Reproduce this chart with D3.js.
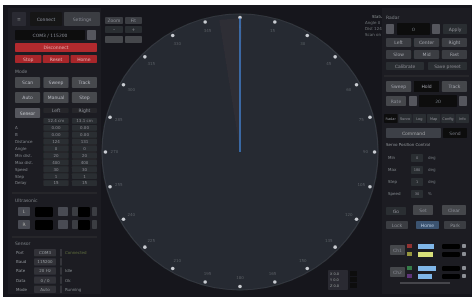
<!DOCTYPE html>
<html>
<head>
<meta charset="utf-8">
<script src="https://cdn.jsdelivr.net/npm/d3@7"></script>
<style>
  html, body { margin: 0; padding: 0; background: #fff; }
  svg { display: block; font-family: "DejaVu Sans", sans-serif; }
</style>
</head>
<body>
<svg id="ui" width="475" height="299"></svg>
<script>
// bearing ticks around the scope (degrees, 0 = up)
const tickAngles = d3.range(0, 360, 15);
const tickLabels = tickAngles.map(a => `${a}`);
// current servo heading and scan beam (degrees)
const heading = [0];
const beam = [-9, 1];
const headingRange = [0, 0.97];

const tabLabels = ['Connect', 'Settings'];
const portLabel = 'COM3 / 115200';
const redLabels = ['Disconnect'];
const redRowLabels = ['Stop', 'Reset', 'Home'];
const modeLabels = [['Scan', 'Sweep', 'Track'], ['Auto', 'Manual', 'Step']];
const tableHead = ['Sensor', 'Left', 'Right'];
const tableRows = [
  ['', '12.4 cm', '13.1 cm'],
  ['A', '0.00', '0.00'],
  ['B', '0.00', '0.00'],
  ['Distance', '124', '131'],
  ['Angle', '0', '0'],
  ['Min dist.', '20', '20'],
  ['Max dist.', '400', '400'],
  ['Speed', '30', '30'],
  ['Step', '1', '1'],
  ['Delay', '15', '15'],
];
const sensorRows = [
  ['Port', 'COM3', 'Connected'],
  ['Baud', '115200', ''],
  ['Rate', '20 Hz', 'Idle'],
  ['Data', '0 / 0', 'Ok'],
  ['Mode', 'Auto', 'Running'],
];
const statusLines = ['Status', 'Angle 0', 'Dist 124', 'Scan on'];
const rightTabs = ['Radar', 'Servo', 'Log', 'Map', 'Config', 'Info'];
const servoRows = [['Min', '0', 'deg'], ['Max', '180', 'deg'], ['Step', '1', 'deg'], ['Speed', '30', '%']];
const barColors = ['#c23b3b', '#c9c94a', '#3fa35a', '#7a3fa0'];
const barValues = [0.8, 0.75, 0.9, 0.7];

const svg = d3.select('#ui');
const W = 475, H = 299;

// the reference is a soft, slightly out of focus capture
svg.append('defs').append('filter').attr('id', 'soft')
  .append('feGaussianBlur').attr('stdDeviation', 0.55);

svg.append('rect').attr('width', W).attr('height', H).attr('fill', '#ffffff');
const root = svg.append('g').attr('filter', 'url(#soft)');
root.append('rect').attr('x', 3).attr('y', 5).attr('width', W - 6).attr('height', H - 7)
  .attr('fill', '#18191d');

function box(g, x, y, w, h, fill, label, color = '#8d9096', size = 4.5) {
  g.append('rect').attr('x', x).attr('y', y).attr('width', w).attr('height', h)
    .attr('rx', 1).attr('fill', fill);
  if (label) {
    g.append('text').attr('x', x + w / 2).attr('y', y + h / 2).attr('dy', '0.35em')
      .attr('text-anchor', 'middle').attr('font-size', size).attr('fill', color).text(label);
  }
}
function label(g, x, y, t, color = '#7d8087', size = 4.5, anchor = 'start') {
  g.append('text').attr('x', x).attr('y', y).attr('dy', '0.35em').attr('font-size', size)
    .attr('text-anchor', anchor).attr('fill', color).text(t);
}

// ---------- left panel ----------
const left = root.append('g');
left.append('rect').attr('x', 8).attr('y', 8).attr('width', 93).attr('height', 286).attr('fill', '#1e1f24');
box(left, 12, 12, 14, 14, '#2a2c31', '≡');
box(left, 30, 12, 32, 14, '#131417', tabLabels[0], '#9a9ca2');
box(left, 64, 12, 36, 14, '#3a3c42', tabLabels[1]);
box(left, 15, 30, 70, 10, '#0b0b0d', portLabel, '#8d9096');
box(left, 87, 30, 9, 10, '#55575d');
redLabels.forEach(t => box(left, 15, 43, 82, 9, '#b22a2e', t, '#e6b0b0'));
const redX = d3.scaleBand().domain(redRowLabels).range([15, 97]).paddingInner(0.05);
redRowLabels.forEach(t => box(left, redX(t), 55, redX.bandwidth(), 8, '#a8282c', t, '#e6b0b0'));
label(left, 15, 71, 'Mode');
const colX = d3.scaleBand().domain([0, 1, 2]).range([15, 97]).paddingInner(0.12);
modeLabels.forEach((row, r) => row.forEach((t, i) =>
  box(left, colX(i), 77 + r * 15, colX.bandwidth(), 11, '#46484e', t, '#b9bbc0')));
// table
box(left, 15, 108, colX.bandwidth(), 10, '#55575d', tableHead[0], '#c9cbd0');
tableHead.slice(1).forEach((t, i) => box(left, colX(i + 1), 108, colX.bandwidth(), 5, '#26272c', t));
const rowY = d3.scaleBand().domain(d3.range(tableRows.length)).range([118, 186]).paddingInner(0.15);
tableRows.forEach((row, r) => {
  row.forEach((t, i) => {
    if (i === 0) {
      if (t) label(left, 15, rowY(r) + rowY.bandwidth() / 2, t, '#80838a', 4);
    } else {
      box(left, colX(i), rowY(r), colX.bandwidth(), rowY.bandwidth(), '#2c2e33', t, '#8a8d93', 4);
    }
  });
});
left.append('line').attr('x1', 12).attr('x2', 97).attr('y1', 193).attr('y2', 193).attr('stroke', '#2c2d32');
label(left, 15, 200, 'Ultrasonic');
[0, 1].forEach(r => {
  const y = 207 + r * 13;
  box(left, 18, y, 12, 9, '#4a4c52', r ? 'R' : 'L', '#aaa');
  box(left, 35, y, 18, 10, '#050506');
  box(left, 58, y, 10, 9, '#4a4c52');
  box(left, 72, y, 6, 9, '#3a3c42');
  box(left, 78, y, 12, 10, '#050506');
  box(left, 92, y, 5, 9, '#3a3c42');
});
left.append('line').attr('x1', 12).attr('x2', 97).attr('y1', 237).attr('y2', 237).attr('stroke', '#2c2d32');
label(left, 15, 243, 'Sensor');
const sY = d3.scaleBand().domain(d3.range(sensorRows.length)).range([249, 293]).paddingInner(0.2);
sensorRows.forEach((row, r) => {
  const y = sY(r) + sY.bandwidth() / 2;
  label(left, 16, y, row[0], '#8b8e94', 4);
  box(left, 34, sY(r), 22, sY.bandwidth(), '#303237', row[1], '#9a9ca2', 4);
  left.append('line').attr('x1', 61).attr('x2', 61).attr('y1', sY(r)).attr('y2', sY(r) + sY.bandwidth())
    .attr('stroke', '#4a4c52');
  label(left, 65, y, row[2], r === 0 ? '#5d6b3d' : '#7f8288', 4);
});

// ---------- scope ----------
const cx = 240, cy = 152, R = 138;
const scope = root.append('g').attr('transform', `translate(${cx},${cy})`);
scope.append('circle').attr('r', R).attr('fill', '#262a31').attr('stroke', '#343840').attr('stroke-width', 1.2);
const rScale = d3.scaleLinear().domain([0, 1]).range([0, R]);
const toRad = d => d * Math.PI / 180;
scope.append('path')
  .attr('d', d3.arc()({ innerRadius: 0, outerRadius: rScale(0.97), startAngle: toRad(beam[0]), endAngle: toRad(beam[1]) }))
  .attr('fill', '#4a3a48').attr('opacity', 0.2);
scope.selectAll('.tick').data(tickAngles).join('circle')
  .attr('class', 'tick')
  .attr('cx', d => rScale(0.975) * Math.sin(toRad(d)))
  .attr('cy', d => -rScale(0.975) * Math.cos(toRad(d)))
  .attr('r', 1.8).attr('fill', '#c9ccd2');
scope.selectAll('.tl').data(tickAngles).join('text')
  .attr('class', 'tl')
  .attr('x', d => rScale(0.91) * Math.sin(toRad(d)))
  .attr('y', d => -rScale(0.91) * Math.cos(toRad(d)))
  .attr('dy', '0.35em').attr('text-anchor', 'middle').attr('font-size', 4)
  .attr('fill', '#5a5e66').text((d, i) => tickLabels[i]);
heading.forEach(h => {
  scope.append('line')
    .attr('x1', rScale(headingRange[0]) * Math.sin(toRad(h)))
    .attr('y1', -rScale(headingRange[0]) * Math.cos(toRad(h)))
    .attr('x2', rScale(headingRange[1]) * Math.sin(toRad(h)))
    .attr('y2', -rScale(headingRange[1]) * Math.cos(toRad(h)))
    .attr('stroke', '#3f78c0').attr('stroke-width', 1.6);
});

// scope overlays
const ov = root.append('g');
box(ov, 105, 17, 18, 7, '#3a3c42', 'Zoom');
box(ov, 125, 17, 17, 7, '#3a3c42', 'Fit');
box(ov, 105, 26, 18, 7, '#2c2e33', '-');
box(ov, 125, 26, 17, 7, '#2c2e33', '+');
box(ov, 105, 36, 18, 7, '#44464c');
box(ov, 125, 36, 17, 7, '#44464c');
statusLines.forEach((t, i) => label(ov, i ? 365 : 372, 17 + i * 6, t, i ? '#6f7279' : '#8d9096', 4));
box(ov, 328, 270, 20, 20, '#2a2c31');
['X', 'Y', 'Z'].forEach((t, i) => {
  label(ov, 330, 274 + i * 6, `${t} 0.0`, '#9a9ca2', 3.5);
  box(ov, 350, 271 + i * 6, 7, 5, '#0b0b0d');
});

// ---------- right panel ----------
const right = root.append('g');
right.append('rect').attr('x', 382).attr('y', 8).attr('width', 89).attr('height', 286).attr('fill', '#1e1f24');
label(right, 386, 17, rightTabs[0]);
box(right, 386, 24, 8, 10, '#55575d');
box(right, 397, 23, 33, 12, '#0b0b0d', '0', '#7d8087');
box(right, 432, 24, 8, 10, '#55575d');
box(right, 443, 24, 24, 10, '#2c2e33', 'Apply');
const rX = d3.scaleBand().domain([0, 1, 2]).range([386, 467]).paddingInner(0.1);
[['Left', 'Center', 'Right'], ['Slow', 'Mid', 'Fast']].forEach((row, r) => row.forEach((t, i) =>
  box(right, rX(i), 38 + r * 12, rX.bandwidth(), 9, '#3a3c42', t, '#a5a7ac')));
box(right, 386, 62, 38, 8, '#2c2e33', 'Calibrate');
box(right, 428, 62, 39, 8, '#2c2e33', 'Save preset');
right.append('line').attr('x1', 384).attr('x2', 469).attr('y1', 76).attr('y2', 76).attr('stroke', '#2c2d32');
['Sweep', 'Hold', 'Track'].forEach((t, i) =>
  box(right, rX(i), 81, rX.bandwidth(), 11, i === 1 ? '#0b0b0d' : '#44464c', t, '#a5a7ac'));
box(right, 386, 96, 20, 10, '#44464c', 'Rate');
box(right, 409, 96, 8, 10, '#55575d');
box(right, 419, 95, 38, 12, '#0b0b0d', '20', '#7d8087');
box(right, 459, 96, 8, 10, '#55575d');
const tX = d3.scaleBand().domain(rightTabs).range([384, 469]).paddingInner(0.06);
rightTabs.forEach((t, i) => box(right, tX(t), 114, tX.bandwidth(), 9, i === 0 ? '#0b0b0d' : '#2c2e33', t, '#8d9096', 3.5));
box(right, 386, 128, 55, 10, '#3e4046', 'Command', '#a5a7ac');
box(right, 443, 128, 24, 10, '#0b0b0d', 'Send', '#7d8087');
label(right, 386, 145, 'Servo Position Control', '#8d9096', 4);
servoRows.forEach((row, r) => {
  const y = 158 + r * 12;
  label(right, 388, y, row[0], '#7d8087', 4);
  box(right, 411, y - 4, 12, 8, '#2c2e33', row[1], '#8d9096', 3.5);
  label(right, 428, y, row[2], '#6f7279', 4);
});
box(right, 386, 207, 20, 8, '#2c2e33', 'Go');
box(right, 413, 205, 20, 10, '#44464c', 'Set');
box(right, 442, 205, 24, 10, '#44464c', 'Clear');
box(right, 386, 221, 22, 8, '#3a3c42', 'Lock');
box(right, 416, 221, 23, 8, '#3a5270', 'Home', '#b8cbe0');
box(right, 444, 221, 22, 8, '#3a3c42', 'Park');
const bW = d3.scaleLinear().domain([0, 1]).range([0, 20]);
barColors.forEach((c, i) => {
  const y = 244 + i * 8 + (i > 1 ? 6 : 0);
  if (i % 2 === 0) box(right, 390, y + 1, 15, 10, '#44464c', i ? 'Ch2' : 'Ch1');
  right.append('rect').attr('x', 407).attr('y', y).attr('width', 5).attr('height', 4).attr('fill', c).attr('opacity', 0.7);
  right.append('rect').attr('x', 418).attr('y', y).attr('width', bW(barValues[i])).attr('height', 5)
    .attr('fill', i === 1 ? '#d8e07a' : '#7fb6e8');
  box(right, 442, y, 18, 5, '#050506');
  box(right, 462, y, 4, 4, '#8d9096');
});
right.append('line').attr('x1', 400).attr('x2', 450).attr('y1', 283).attr('y2', 283).attr('stroke', '#6a6d74');
</script>
</body>
</html>
